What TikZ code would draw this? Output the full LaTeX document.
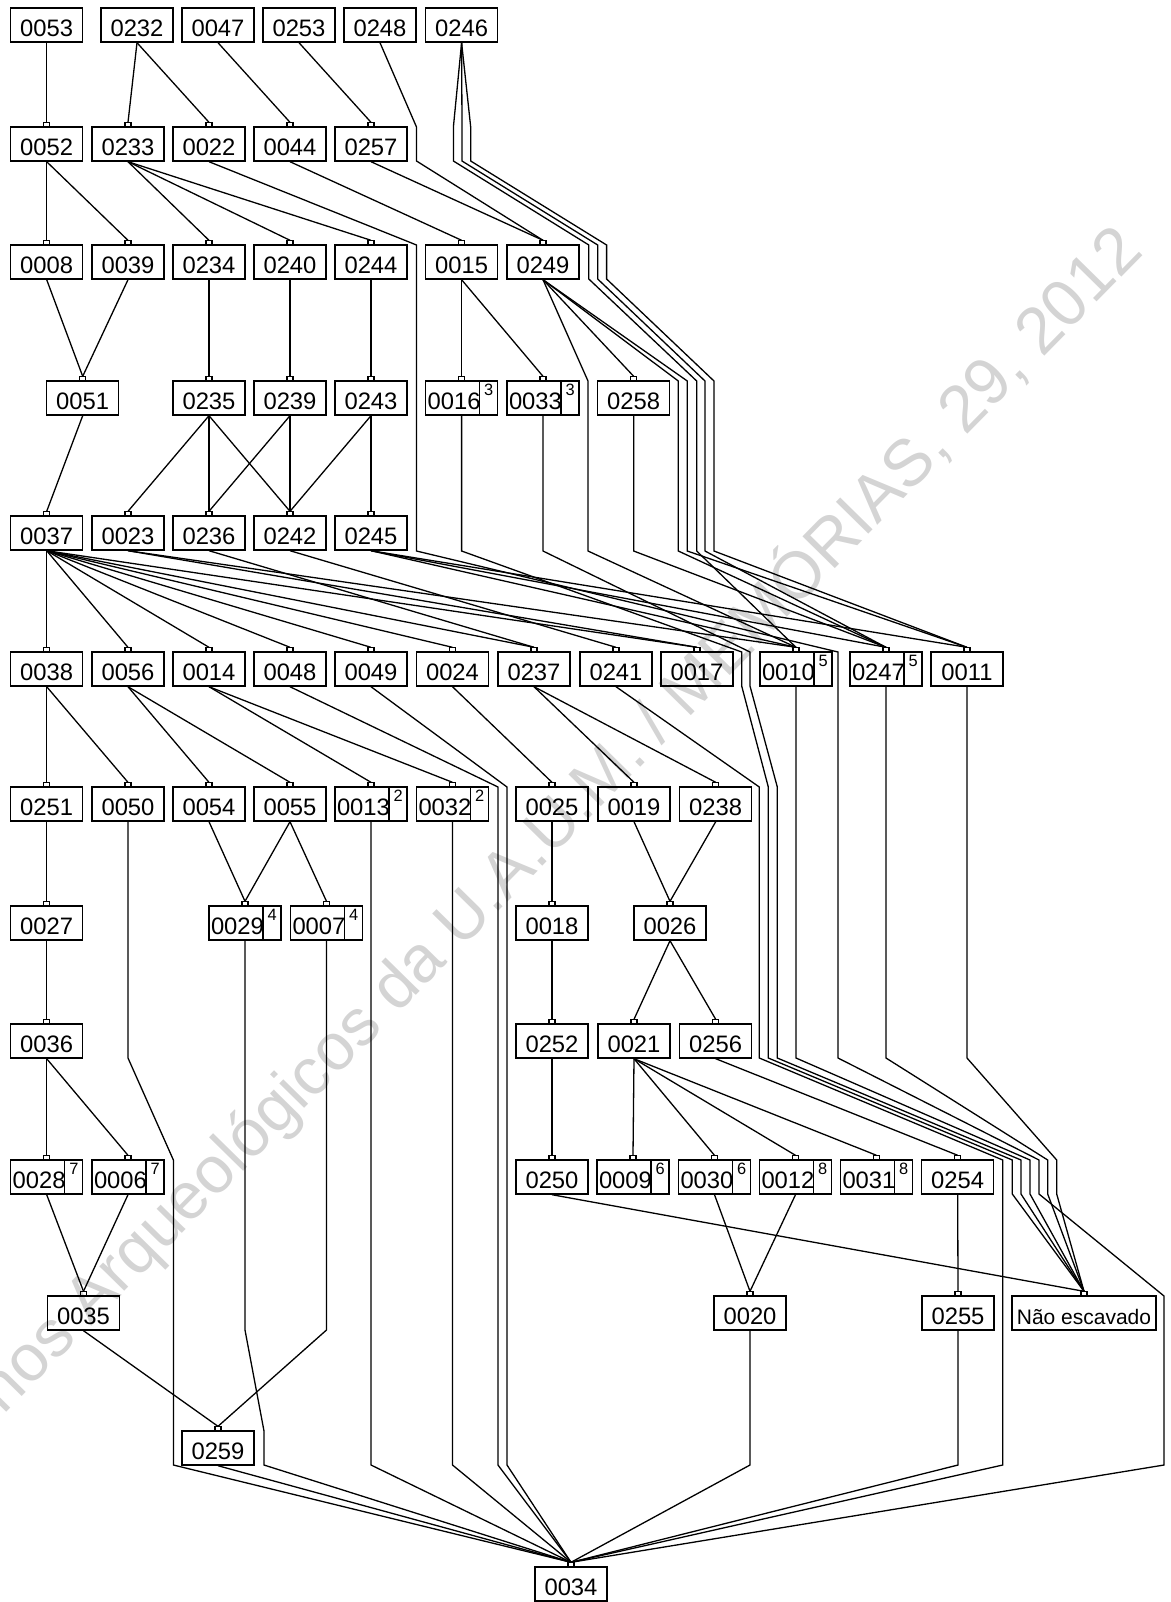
\documentclass[tikz,border=0pt]{standalone}
\usepackage{fontspec}
\setmainfont{Liberation Sans}

\newcommand{\unitfont}{\fontsize{11.9pt}{12pt}\selectfont}
\newcommand{\supfont}{\fontsize{8.2pt}{9pt}\selectfont}
\newcommand{\nefont}{\fontsize{10.5pt}{12pt}\selectfont}

\tikzset{
  unit/.style={draw, line width=0.7pt, minimum width=36pt, minimum height=17pt,
    inner sep=0pt, text height=11.7pt, text depth=0pt, font=\unitfont},
  supunit/.style={unit, text width=34pt, align=left, inner xsep=1pt,
    path picture={
      \draw[line width=0.7pt] ([xshift=27pt]path picture bounding box.north west)
        -- ([xshift=27pt]path picture bounding box.south west);
      \node[font=\supfont, anchor=base, inner sep=0pt, text width=, align=center,
            text height=, text depth=]
        at ([xshift=31.6pt, yshift=-7.2pt]path picture bounding box.north west) {#1};
    }},
  link/.style={line width=0.65pt},
  tick/.style={line width=0.6pt},
}

% link from bottom of #2 to the tick on top of #3, #1 = bends in between
\newcommand{\lk}[3][]{%
  \draw[link] (#2.south) #1 -- ([yshift=2pt]#3.north);
  \draw[tick] ([xshift=-1.5pt]#3.north) rectangle ([xshift=1.5pt,yshift=2pt]#3.north);}

\begin{document}
\begin{tikzpicture}[x=0.5pt, y=-0.5pt]
  \useasboundingbox (0,0) rectangle (1171,1602);

  % watermark
  \node[rotate=45.5, text=black!17, font=\fontsize{33pt}{36pt}\selectfont] (wm)
    at (496,883) {Cadernos Arqueológicos da U.A.U.M. / MEMÓRIAS, 29, 2012};

  % Row 1
  \node[unit] (u0053) at (46.7,25) {0053};
  \node[unit] (u0232) at (137,25) {0232};
  \node[unit] (u0047) at (218,25) {0047};
  \node[unit] (u0253) at (299,25) {0253};
  \node[unit] (u0248) at (380,25) {0248};
  \node[unit] (u0246) at (461.6,25) {0246};

  % Row 2
  \node[unit] (u0052) at (46.7,144) {0052};
  \node[unit] (u0233) at (128,144) {0233};
  \node[unit] (u0022) at (209,144) {0022};
  \node[unit] (u0044) at (290,144) {0044};
  \node[unit] (u0257) at (371,144) {0257};

  % Row 3
  \node[unit] (u0008) at (46.7,262) {0008};
  \node[unit] (u0039) at (128,262) {0039};
  \node[unit] (u0234) at (209,262) {0234};
  \node[unit] (u0240) at (290,262) {0240};
  \node[unit] (u0244) at (371,262) {0244};
  \node[unit] (u0015) at (461.6,262) {0015};
  \node[unit] (u0249) at (543,262) {0249};

  % Row 4
  \node[unit] (u0051) at (82.7,398) {0051};
  \node[unit] (u0235) at (209,398) {0235};
  \node[unit] (u0239) at (290,398) {0239};
  \node[unit] (u0243) at (371,398) {0243};
  \node[supunit=3] (u0016) at (461.6,398) {0016};
  \node[supunit=3] (u0033) at (543,398) {0033};
  \node[unit] (u0258) at (633.7,398) {0258};

  % Row 5
  \node[unit] (u0037) at (46.7,533) {0037};
  \node[unit] (u0023) at (128,533) {0023};
  \node[unit] (u0236) at (209,533) {0236};
  \node[unit] (u0242) at (290,533) {0242};
  \node[unit] (u0245) at (371,533) {0245};

  % Row 6
  \node[unit] (u0038) at (46.7,669) {0038};
  \node[unit] (u0056) at (128,669) {0056};
  \node[unit] (u0014) at (209,669) {0014};
  \node[unit] (u0048) at (290,669) {0048};
  \node[unit] (u0049) at (371,669) {0049};
  \node[unit] (u0024) at (452.5,669) {0024};
  \node[unit] (u0237) at (534,669) {0237};
  \node[unit] (u0241) at (616,669) {0241};
  \node[unit] (u0017) at (697,669) {0017};
  \node[supunit=5] (u0010) at (796,669) {0010};
  \node[supunit=5] (u0247) at (886,669) {0247};
  \node[unit] (u0011) at (967,669) {0011};

  % Row 7
  \node[unit] (u0251) at (46.7,804) {0251};
  \node[unit] (u0050) at (128,804) {0050};
  \node[unit] (u0054) at (209,804) {0054};
  \node[unit] (u0055) at (290,804) {0055};
  \node[supunit=2] (u0013) at (371,804) {0013};
  \node[supunit=2] (u0032) at (452.5,804) {0032};
  \node[unit] (u0025) at (552,804) {0025};
  \node[unit] (u0019) at (634,804) {0019};
  \node[unit] (u0238) at (715.7,804) {0238};

  % Row 8
  \node[unit] (u0027) at (46.7,923) {0027};
  \node[supunit=4] (u0029) at (245,923) {0029};
  \node[supunit=4] (u0007) at (326.5,923) {0007};
  \node[unit] (u0018) at (552,923) {0018};
  \node[unit] (u0026) at (670,923) {0026};

  % Row 9
  \node[unit] (u0036) at (46.7,1041) {0036};
  \node[unit] (u0252) at (552,1041) {0252};
  \node[unit] (u0021) at (634,1041) {0021};
  \node[unit] (u0256) at (715.7,1041) {0256};

  % Row 10
  \node[supunit=7] (u0028) at (46.7,1177) {0028};
  \node[supunit=7] (u0006) at (128,1177) {0006};
  \node[unit] (u0250) at (552,1177) {0250};
  \node[supunit=6] (u0009) at (633,1177) {0009};
  \node[supunit=6] (u0030) at (714.5,1177) {0030};
  \node[supunit=8] (u0012) at (795.5,1177) {0012};
  \node[supunit=8] (u0031) at (876.5,1177) {0031};
  \node[unit] (u0254) at (957.7,1177) {0254};

  % Row 11
  \node[unit] (u0035) at (83.5,1313) {0035};
  \node[unit] (u0020) at (750,1313) {0020};
  \node[unit] (u0255) at (958,1313) {0255};
  \node[unit, minimum width=72pt, font=\nefont] (une) at (1084,1313) {Não escavado};

  % Row 12
  \node[unit] (u0259) at (218,1448) {0259};

  % Row 13
  \node[unit] (u0034) at (571,1584) {0034};

  % Row 1 -> 2
  \lk{u0053}{u0052}
  \lk{u0232}{u0233}
  \lk{u0232}{u0022}
  \lk{u0047}{u0044}
  \lk{u0253}{u0257}
  \lk[-- (416.5,127) -- (416.5,161)]{u0248}{u0249}
  \lk[-- (453.4,127) -- (453.4,161) -- (588.8,245) -- (588.8,279) -- (696.7,381) -- (696.7,551)]{u0246}{u0010}
  \lk[-- (462,127) -- (462,161) -- (597.7,245) -- (597.7,279) -- (705,381) -- (705,551)]{u0246}{u0247}
  \lk[-- (470.7,127) -- (470.7,161) -- (606.6,245) -- (606.6,279) -- (714,381) -- (714,551)]{u0246}{u0011}

  % Row 2 -> 3
  \lk{u0052}{u0008}
  \lk{u0052}{u0039}
  \lk{u0233}{u0234}
  \lk{u0233}{u0240}
  \lk{u0233}{u0244}
  \lk{u0044}{u0015}
  \lk{u0257}{u0249}
  \lk[-- (416.5,245) -- (416.5,551) -- (838,652) -- (838,1058) -- (1039,1160) -- (1039,1194) -- (1164,1296) -- (1164,1465)]{u0022}{u0034}

  % Row 3 -> 4
  \lk{u0008}{u0051}
  \lk{u0039}{u0051}
  \lk{u0234}{u0235}
  \lk{u0240}{u0239}
  \lk{u0244}{u0243}
  \lk{u0015}{u0016}
  \lk{u0015}{u0033}
  \lk{u0249}{u0258}
  \lk[-- (588,381) -- (588,551)]{u0249}{u0010}
  \lk[-- (678.3,381) -- (678.3,551)]{u0249}{u0247}
  \lk[-- (687.3,381) -- (687.3,551)]{u0249}{u0011}

  % Row 4 -> 5
  \lk{u0051}{u0037}
  \lk{u0235}{u0023}
  \lk{u0235}{u0236}
  \lk{u0235}{u0242}
  \lk{u0239}{u0236}
  \lk{u0239}{u0242}
  \lk{u0243}{u0242}
  \lk{u0243}{u0245}
  \lk[-- (461.6,551) -- (741.7,652) -- (741.7,686) -- (768.3,787) -- (768.3,1058) -- (1012.3,1160) -- (1012.3,1194)]{u0016}{une}
  \lk[-- (543,551) -- (750,652) -- (750,686) -- (777.3,787) -- (777.3,1058) -- (1021,1160) -- (1021,1194)]{u0033}{une}
  \lk[-- (633.7,551)]{u0258}{u0247}

  % Row 5 -> 6
  \lk{u0037}{u0038}
  \lk{u0037}{u0056}
  \lk{u0037}{u0014}
  \lk{u0037}{u0048}
  \lk{u0037}{u0049}
  \lk{u0037}{u0024}
  \lk{u0037}{u0237}
  \lk{u0037}{u0017}
  \lk{u0023}{u0017}
  \lk{u0023}{u0010}
  \lk{u0236}{u0237}
  \lk{u0242}{u0241}
  \lk{u0245}{u0010}
  \lk{u0245}{u0247}
  \lk{u0245}{u0011}

  % Row 6 -> 7
  \lk{u0038}{u0251}
  \lk{u0038}{u0050}
  \lk{u0056}{u0054}
  \lk{u0056}{u0055}
  \lk{u0014}{u0013}
  \lk{u0014}{u0032}
  \lk[-- (498,787) -- (498,1465)]{u0048}{u0034}
  \lk[-- (507,787) -- (507,1465)]{u0049}{u0034}
  \lk{u0024}{u0025}
  \lk{u0237}{u0019}
  \lk{u0237}{u0238}
  \lk[-- (759.3,787) -- (759.3,1058) -- (1002.7,1160) -- (1002.7,1465)]{u0241}{u0034}
  \lk[-- (796,1058) -- (1030,1160) -- (1030,1194)]{u0010}{une}
  \lk[-- (886,1058) -- (1047.7,1160) -- (1047.7,1194)]{u0247}{une}
  \lk[-- (967,1058) -- (1056.7,1160) -- (1056.7,1194)]{u0011}{une}

  % Row 7 -> 8
  \lk{u0251}{u0027}
  \lk[-- (128,1058) -- (173.4,1160) -- (173.4,1465)]{u0050}{u0034}
  \lk{u0054}{u0029}
  \lk{u0055}{u0029}
  \lk{u0055}{u0007}
  \lk[-- (371,1465)]{u0013}{u0034}
  \lk[-- (452.5,1465)]{u0032}{u0034}
  \lk{u0025}{u0018}
  \lk{u0019}{u0026}
  \lk{u0238}{u0026}

  % Row 8 -> 9
  \lk{u0027}{u0036}
  \lk[-- (245,1330) -- (264,1431) -- (264,1465)]{u0029}{u0034}
  \lk[-- (326.5,1330)]{u0007}{u0259}
  \lk{u0018}{u0252}
  \lk{u0026}{u0021}
  \lk{u0026}{u0256}

  % Row 9 -> 10
  \lk{u0036}{u0028}
  \lk{u0036}{u0006}
  \lk{u0252}{u0250}
  \lk{u0021}{u0009}
  \lk{u0021}{u0030}
  \lk{u0021}{u0012}
  \lk{u0021}{u0031}
  \lk{u0256}{u0254}

  % Row 10 -> 11
  \lk{u0028}{u0035}
  \lk{u0006}{u0035}
  \lk{u0250}{une}
  \lk{u0030}{u0020}
  \lk{u0012}{u0020}
  \lk{u0254}{u0255}

  % Row 11 -> 13
  \lk{u0035}{u0259}
  \lk{u0259}{u0034}
  \lk[-- (750,1465)]{u0020}{u0034}
  \lk[-- (958,1465)]{u0255}{u0034}
\end{tikzpicture}
\end{document}
